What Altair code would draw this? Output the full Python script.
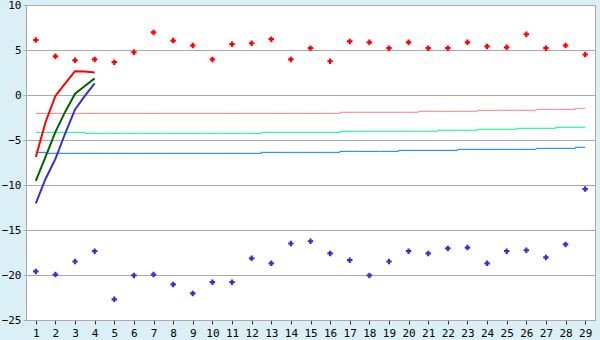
import altair as alt
import pandas as pd

# ---- data ----
x_days = list(range(1, 30))
red_points = [6.1, 4.3, 3.85, 3.95, 3.65, 4.75, 6.95, 6.05, 5.5, 3.95, 5.65, 5.75, 6.2, 3.95,
              5.2, 3.75, 5.95, 5.85, 5.2, 5.85, 5.2, 5.2, 5.85, 5.4, 5.3, 6.75, 5.2, 5.5, 4.5]
blue_points = [-19.6, -19.95, -18.5, -17.35, -22.7, -20.05, -19.95, -21.05, -22.05, -20.8, -20.8,
               -18.15, -18.7, -16.5, -16.25, -17.6, -18.35, -20.05, -18.5, -17.35, -17.6, -17.05,
               -16.95, -18.7, -17.35, -17.25, -18.05, -16.6, -10.45]

pink_trend = [-2.04, -2.04, -2.04, -2.04, -2.04, -2.04, -2.04, -2.04, -2.04, -2.04, -2.04, -2.04,
              -2.04, -2.04, -2.04, -2.04, -1.92, -1.92, -1.92, -1.92, -1.81, -1.81, -1.81, -1.70,
              -1.70, -1.70, -1.59, -1.59, -1.48]
green_trend = [-4.15, -4.15, -4.15, -4.26, -4.26, -4.26, -4.26, -4.26, -4.26, -4.26, -4.26, -4.26,
               -4.15, -4.15, -4.15, -4.15, -4.03, -4.03, -4.03, -4.03, -4.03, -3.92, -3.92, -3.81,
               -3.81, -3.70, -3.70, -3.59, -3.59]
blue_trend = [-6.37, -6.48, -6.48, -6.48, -6.48, -6.48, -6.48, -6.48, -6.48, -6.48, -6.48, -6.48,
              -6.37, -6.37, -6.37, -6.37, -6.26, -6.26, -6.26, -6.15, -6.15, -6.15, -6.04, -6.04,
              -6.04, -6.04, -5.93, -5.93, -5.81]

curve_x = [1, 1.5, 2, 2.5, 3, 3.5, 4]
red_curve = [-6.9, -3.0, -0.1, 1.3, 2.65, 2.6, 2.5]
green_curve = [-9.55, -6.85, -4.1, -1.85, 0.15, 1.0, 1.85]
blue_curve = [-12.05, -9.3, -7.1, -4.25, -1.6, -0.1, 1.3]

x_ticks = list(range(1, 30))
y_ticks = [-25, -20, -15, -10, -5, 0, 5, 10]

# ---- tables ----
trend_df = pd.concat([
    pd.DataFrame({"x": x_days, "y": pink_trend, "s": "pink"}),
    pd.DataFrame({"x": x_days, "y": green_trend, "s": "green"}),
    pd.DataFrame({"x": x_days, "y": blue_trend, "s": "blue"}),
])
curve_df = pd.concat([
    pd.DataFrame({"x": curve_x, "y": red_curve, "s": "red"}),
    pd.DataFrame({"x": curve_x, "y": green_curve, "s": "green"}),
    pd.DataFrame({"x": curve_x, "y": blue_curve, "s": "blue"}),
])
pts_df = pd.concat([
    pd.DataFrame({"x": x_days, "y": red_points, "s": "red"}),
    pd.DataFrame({"x": x_days, "y": blue_points, "s": "blue"}),
])

xs = alt.Scale(domain=[0.5, 29.5], nice=False, zero=False)
ys = alt.Scale(domain=[-25, 10], nice=False, zero=False)
xax = alt.Axis(values=x_ticks, title=None, grid=False, format="d")
yax = alt.Axis(values=y_ticks, title=None, grid=True, format="d")

X = alt.X("x:Q", scale=xs, axis=xax)
Y = alt.Y("y:Q", scale=ys, axis=yax)

trend = alt.Chart(trend_df).mark_line(strokeWidth=1, interpolate="step").encode(
    x=X, y=Y,
    color=alt.Color("s:N", legend=None,
                    scale=alt.Scale(domain=["pink", "green", "blue"],
                                    range=["#ff8080", "#00ff80", "#0080ff"])),
)
curves = alt.Chart(curve_df).mark_line(strokeWidth=2).encode(
    x=X, y=Y,
    detail="s:N",
    stroke=alt.Stroke("s:N", legend=None,
                      scale=alt.Scale(domain=["red", "green", "blue"],
                                      range=["#ff0000", "#006400", "#3333cc"])),
)
pts = alt.Chart(pts_df).mark_point(shape="cross", filled=True, size=30, opacity=1).encode(
    x=X, y=Y,
    fill=alt.Fill("s:N", legend=None,
                  scale=alt.Scale(domain=["red", "blue"], range=["#ff0000", "#3333cc"])),
)

chart = alt.layer(trend, curves, pts).resolve_scale(color="independent", stroke="independent", fill="independent").properties(
    width=569, height=315,
    padding={"left": 26, "top": 5, "right": 5, "bottom": 20},
    autosize=alt.AutoSizeParams(type="none"),
    background="#daf0f6",
).configure_view(
    fill="white", stroke="#aaaaaa", strokeWidth=1
).configure_axis(
    labelFont="DejaVu Sans Mono", labelFontSize=11, labelColor="black",
    domainColor="#aaaaaa", gridColor="#aaaaaa", gridOpacity=1,
).configure_axisX(
    tickColor="#333333", tickSize=4, labelPadding=3,
).configure_axisY(
    tickColor="#aaaaaa", tickSize=3, labelPadding=2,
)

chart.save("out.html", embed_options={"renderer": "svg", "actions": False})
